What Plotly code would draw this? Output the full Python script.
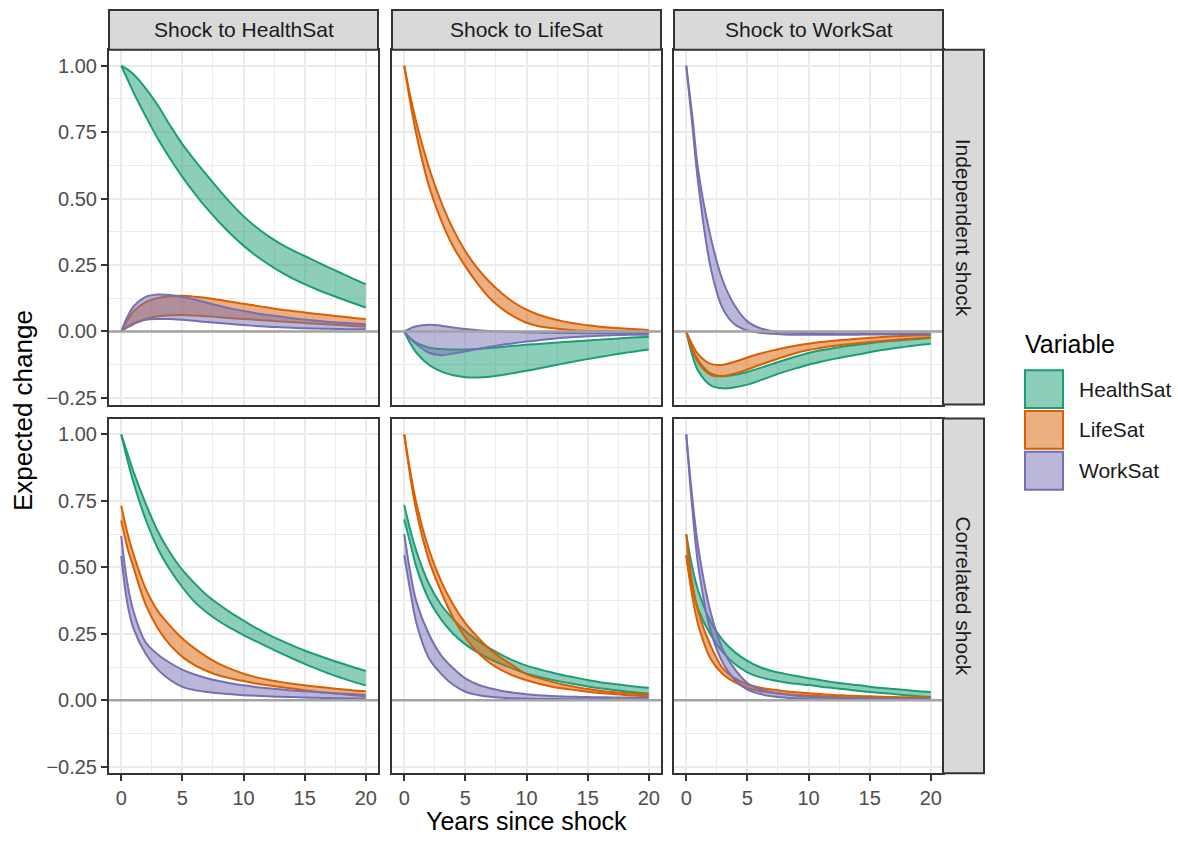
import plotly.graph_objects as go

W, H = 1178, 841

# ---------------- data ----------------
years = [0, 0.5, 1, 2, 3, 4, 5, 6, 7, 8, 9, 10, 11, 12, 13, 14, 15, 16, 17, 18, 19, 20]
variables = ["HealthSat", "LifeSat", "WorkSat"]
shock_labels = ["Shock to HealthSat", "Shock to LifeSat", "Shock to WorkSat"]
shock_types = ["Independent shock", "Correlated shock"]
x_ticks = [0, 5, 10, 15, 20]
x_tick_labels = ["0", "5", "10", "15", "20"]
y_ticks = [-0.25, 0, 0.25, 0.5, 0.75, 1.0]
y_tick_labels = ["\u22120.25", "0.00", "0.25", "0.50", "0.75", "1.00"]

# Independent shock, shock to HealthSat
ih_health_lo = [1.0, 0.95, 0.9, 0.81, 0.725, 0.65, 0.582, 0.52, 0.463, 0.412, 0.365, 0.323, 0.286, 0.254, 0.225, 0.2, 0.178, 0.158, 0.14, 0.123, 0.106, 0.09]
ih_health_hi = [1.0, 0.986, 0.968, 0.915, 0.85, 0.775, 0.705, 0.645, 0.588, 0.533, 0.481, 0.434, 0.394, 0.36, 0.331, 0.306, 0.284, 0.262, 0.24, 0.219, 0.198, 0.178]
ih_life_lo = [0, 0.015, 0.027, 0.047, 0.057, 0.061, 0.062, 0.06, 0.057, 0.054, 0.05, 0.047, 0.044, 0.041, 0.038, 0.035, 0.032, 0.029, 0.026, 0.024, 0.021, 0.019]
ih_life_hi = [0, 0.042, 0.075, 0.11, 0.126, 0.133, 0.134, 0.131, 0.126, 0.119, 0.112, 0.104, 0.097, 0.09, 0.083, 0.077, 0.071, 0.066, 0.061, 0.056, 0.051, 0.047]
ih_work_lo = [0, 0.018, 0.031, 0.044, 0.047, 0.047, 0.044, 0.04, 0.036, 0.032, 0.028, 0.024, 0.021, 0.018, 0.016, 0.014, 0.012, 0.011, 0.01, 0.009, 0.0085, 0.008]
ih_work_hi = [0, 0.055, 0.093, 0.13, 0.139, 0.137, 0.13, 0.12, 0.108, 0.097, 0.086, 0.077, 0.069, 0.062, 0.056, 0.05, 0.045, 0.04, 0.036, 0.033, 0.03, 0.027]

# Independent shock, shock to LifeSat
il_health_lo = [0, -0.045, -0.08, -0.125, -0.15, -0.165, -0.172, -0.173, -0.17, -0.164, -0.156, -0.148, -0.139, -0.13, -0.121, -0.112, -0.104, -0.096, -0.088, -0.081, -0.074, -0.068]
il_health_hi = [0, -0.025, -0.043, -0.06, -0.066, -0.068, -0.068, -0.066, -0.062, -0.058, -0.054, -0.05, -0.047, -0.043, -0.04, -0.037, -0.034, -0.031, -0.028, -0.025, -0.022, -0.02]
il_life_lo = [1.0, 0.86, 0.74, 0.55, 0.42, 0.32, 0.245, 0.18, 0.125, 0.085, 0.055, 0.033, 0.02, 0.013, 0.008, 0.004, 0.002, 0.0, -0.001, -0.002, -0.003, -0.003]
il_life_hi = [1.0, 0.885, 0.785, 0.62, 0.49, 0.385, 0.302, 0.237, 0.185, 0.143, 0.108, 0.082, 0.063, 0.049, 0.038, 0.03, 0.023, 0.018, 0.014, 0.011, 0.008, 0.006]
il_work_lo = [0, -0.028, -0.048, -0.08, -0.089, -0.083, -0.075, -0.066, -0.057, -0.05, -0.044, -0.038, -0.033, -0.028, -0.024, -0.021, -0.018, -0.016, -0.014, -0.013, -0.012, -0.012]
il_work_hi = [0, 0.012, 0.02, 0.025, 0.022, 0.015, 0.009, 0.005, 0.002, 0.0, -0.002, -0.003, -0.004, -0.005, -0.0055, -0.006, -0.0065, -0.007, -0.007, -0.007, -0.007, -0.007]

# Independent shock, shock to WorkSat
iw_health_lo = [0, -0.09, -0.15, -0.203, -0.214, -0.21, -0.2, -0.185, -0.168, -0.152, -0.138, -0.125, -0.114, -0.104, -0.095, -0.087, -0.078, -0.07, -0.063, -0.057, -0.051, -0.046]
iw_health_hi = [0, -0.065, -0.11, -0.158, -0.168, -0.163, -0.152, -0.138, -0.123, -0.108, -0.094, -0.081, -0.071, -0.063, -0.056, -0.05, -0.044, -0.039, -0.035, -0.031, -0.028, -0.025]
iw_life_lo = [0, -0.07, -0.118, -0.163, -0.168, -0.158, -0.143, -0.126, -0.11, -0.095, -0.081, -0.07, -0.062, -0.055, -0.049, -0.044, -0.04, -0.036, -0.032, -0.028, -0.025, -0.022]
iw_life_hi = [0, -0.05, -0.087, -0.122, -0.125, -0.113, -0.098, -0.084, -0.072, -0.062, -0.053, -0.046, -0.04, -0.035, -0.031, -0.027, -0.024, -0.021, -0.018, -0.016, -0.014, -0.012]
iw_work_lo = [1.0, 0.775, 0.55, 0.24, 0.085, 0.025, 0.004, -0.005, -0.009, -0.011, -0.012, -0.012, -0.012, -0.012, -0.012, -0.012, -0.011, -0.011, -0.011, -0.011, -0.01, -0.01]
iw_work_hi = [1.0, 0.81, 0.6, 0.355, 0.19, 0.095, 0.038, 0.013, 0.002, -0.003, -0.005, -0.006, -0.007, -0.007, -0.008, -0.008, -0.008, -0.008, -0.008, -0.008, -0.008, -0.008]

# Correlated shock, shock to HealthSat
ch_health_lo = [1.0, 0.905, 0.82, 0.68, 0.57, 0.49, 0.425, 0.37, 0.33, 0.297, 0.27, 0.245, 0.222, 0.2, 0.178, 0.157, 0.137, 0.118, 0.1, 0.084, 0.069, 0.056]
ch_health_hi = [1.0, 0.93, 0.86, 0.74, 0.635, 0.555, 0.49, 0.44, 0.395, 0.36, 0.328, 0.3, 0.272, 0.248, 0.226, 0.206, 0.187, 0.17, 0.154, 0.139, 0.124, 0.11]
ch_life_lo = [0.676, 0.575, 0.5, 0.36, 0.27, 0.207, 0.163, 0.132, 0.11, 0.093, 0.082, 0.072, 0.063, 0.056, 0.05, 0.044, 0.038, 0.032, 0.027, 0.023, 0.019, 0.015]
ch_life_hi = [0.732, 0.63, 0.55, 0.42, 0.335, 0.28, 0.232, 0.195, 0.163, 0.137, 0.117, 0.1, 0.087, 0.077, 0.069, 0.062, 0.056, 0.051, 0.046, 0.041, 0.037, 0.034]
ch_work_lo = [0.543, 0.365, 0.27, 0.175, 0.115, 0.076, 0.05, 0.038, 0.031, 0.026, 0.022, 0.019, 0.017, 0.015, 0.013, 0.012, 0.01, 0.009, 0.008, 0.007, 0.0065, 0.006]
ch_work_hi = [0.618, 0.44, 0.335, 0.218, 0.172, 0.14, 0.115, 0.097, 0.083, 0.072, 0.063, 0.056, 0.05, 0.045, 0.041, 0.037, 0.034, 0.031, 0.028, 0.025, 0.022, 0.02]

# Correlated shock, shock to LifeSat
cl_health_lo = [0.68, 0.59, 0.5, 0.38, 0.305, 0.25, 0.21, 0.18, 0.155, 0.135, 0.117, 0.1, 0.088, 0.077, 0.068, 0.06, 0.052, 0.045, 0.039, 0.034, 0.029, 0.025]
cl_health_hi = [0.735, 0.64, 0.56, 0.44, 0.36, 0.305, 0.26, 0.225, 0.195, 0.17, 0.148, 0.13, 0.117, 0.105, 0.094, 0.085, 0.076, 0.068, 0.062, 0.056, 0.051, 0.047]
cl_life_lo = [1.0, 0.84, 0.71, 0.53, 0.41, 0.31, 0.235, 0.18, 0.14, 0.112, 0.091, 0.075, 0.062, 0.052, 0.044, 0.038, 0.032, 0.027, 0.023, 0.02, 0.017, 0.015]
cl_life_hi = [1.0, 0.86, 0.74, 0.57, 0.45, 0.36, 0.29, 0.238, 0.192, 0.157, 0.127, 0.098, 0.083, 0.07, 0.059, 0.05, 0.042, 0.036, 0.031, 0.027, 0.024, 0.021]
cl_work_lo = [0.545, 0.41, 0.29, 0.16, 0.1, 0.058, 0.032, 0.02, 0.013, 0.009, 0.007, 0.006, 0.005, 0.005, 0.004, 0.004, 0.004, 0.004, 0.003, 0.003, 0.003, 0.003]
cl_work_hi = [0.625, 0.48, 0.37, 0.25, 0.17, 0.12, 0.082, 0.059, 0.045, 0.035, 0.028, 0.022, 0.019, 0.016, 0.014, 0.013, 0.012, 0.011, 0.0105, 0.01, 0.0095, 0.009]

# Correlated shock, shock to WorkSat
cw_health_lo = [0.545, 0.42, 0.34, 0.245, 0.18, 0.135, 0.105, 0.087, 0.076, 0.068, 0.062, 0.057, 0.051, 0.046, 0.041, 0.036, 0.031, 0.027, 0.023, 0.019, 0.015, 0.012]
cw_health_hi = [0.625, 0.5, 0.41, 0.295, 0.225, 0.18, 0.148, 0.125, 0.11, 0.1, 0.091, 0.083, 0.075, 0.068, 0.062, 0.057, 0.051, 0.046, 0.042, 0.038, 0.034, 0.031]
cw_life_lo = [0.545, 0.39, 0.28, 0.155, 0.098, 0.067, 0.045, 0.035, 0.028, 0.023, 0.02, 0.017, 0.015, 0.013, 0.0115, 0.01, 0.009, 0.008, 0.0075, 0.007, 0.0065, 0.006]
cw_life_hi = [0.625, 0.44, 0.33, 0.205, 0.12, 0.082, 0.06, 0.048, 0.04, 0.034, 0.03, 0.026, 0.023, 0.02, 0.018, 0.016, 0.0145, 0.013, 0.012, 0.011, 0.0105, 0.01]
cw_work_lo = [1.0, 0.72, 0.5, 0.26, 0.14, 0.075, 0.04, 0.024, 0.015, 0.01, 0.007, 0.005, 0.004, 0.004, 0.003, 0.003, 0.003, 0.002, 0.002, 0.002, 0.002, 0.002]
cw_work_hi = [1.0, 0.76, 0.57, 0.33, 0.19, 0.115, 0.065, 0.042, 0.03, 0.022, 0.017, 0.013, 0.011, 0.009, 0.008, 0.007, 0.0065, 0.006, 0.0055, 0.005, 0.005, 0.005]

# ---------------- styling ----------------
line_colors = {"HealthSat": "#1B9E77", "LifeSat": "#D95F02", "WorkSat": "#7570B3"}
fill_colors = {"HealthSat": "rgba(27,158,119,0.5)", "LifeSat": "rgba(217,95,2,0.5)",
               "WorkSat": "rgba(117,112,179,0.5)"}
FONT = "Liberation Sans, Arial, Helvetica, sans-serif"

panels = {
    (0, 0): [(ih_health_lo, ih_health_hi), (ih_life_lo, ih_life_hi), (ih_work_lo, ih_work_hi)],
    (0, 1): [(il_health_lo, il_health_hi), (il_life_lo, il_life_hi), (il_work_lo, il_work_hi)],
    (0, 2): [(iw_health_lo, iw_health_hi), (iw_life_lo, iw_life_hi), (iw_work_lo, iw_work_hi)],
    (1, 0): [(ch_health_lo, ch_health_hi), (ch_life_lo, ch_life_hi), (ch_work_lo, ch_work_hi)],
    (1, 1): [(cl_health_lo, cl_health_hi), (cl_life_lo, cl_life_hi), (cl_work_lo, cl_work_hi)],
    (1, 2): [(cw_health_lo, cw_health_hi), (cw_life_lo, cw_life_hi), (cw_work_lo, cw_work_hi)],
}

# panel positions in pixels
col_px = [(109, 378), (392, 661), (674, 943)]
row_px = [(50, 406.5), (420.5, 777)]


def pxx(p):
    return p / W


def pxy(p):
    return 1 - p / H


fig = go.Figure()
layout = dict(width=W, height=H, autosize=False, margin=dict(l=0, r=0, t=0, b=0, pad=0),
              paper_bgcolor="white", plot_bgcolor="white", showlegend=False,
              font=dict(family=FONT, color="#1A1A1A"))
shapes = []
annotations = []

for r in range(2):
    for c in range(3):
        n = r * 3 + c + 1
        sfx = "" if n == 1 else str(n)
        xa, ya = "x" + sfx, "y" + sfx
        layout["xaxis" + sfx] = dict(
            domain=[pxx(col_px[c][0]), pxx(col_px[c][1])], anchor=ya, range=[-1, 21],
            tickmode="array", tickvals=x_ticks, ticktext=x_tick_labels,
            showgrid=True, gridcolor="#EBEBEB", gridwidth=2, zeroline=False,
            minor=dict(tickvals=[2.5, 7.5, 12.5, 17.5], showgrid=True, gridcolor="#EBEBEB",
                       gridwidth=1, ticks=""),
            showline=True, mirror=True, linecolor="#333333", linewidth=2,
            ticks="outside" if r == 1 else "", ticklen=6, tickwidth=2, tickcolor="#333333",
            showticklabels=(r == 1), tickfont=dict(size=20, color="#4D4D4D", family=FONT),
            fixedrange=True)
        layout["yaxis" + sfx] = dict(
            domain=[pxy(row_px[r][1]), pxy(row_px[r][0])], anchor=xa, range=[-0.275, 1.06],
            tickmode="array", tickvals=y_ticks, ticktext=y_tick_labels,
            showgrid=True, gridcolor="#EBEBEB", gridwidth=2, zeroline=False,
            minor=dict(tickvals=[-0.125, 0.125, 0.375, 0.625, 0.875], showgrid=True,
                       gridcolor="#EBEBEB", gridwidth=1, ticks=""),
            showline=True, mirror=True, linecolor="#333333", linewidth=2,
            ticks="outside" if c == 0 else "", ticklen=6, tickwidth=2, tickcolor="#333333",
            showticklabels=(c == 0), tickfont=dict(size=20, color="#4D4D4D", family=FONT),
            fixedrange=True)

        for var, (lo, hi) in zip(variables, panels[(r, c)]):
            fig.add_trace(go.Scatter(x=years, y=lo, mode="lines", xaxis=xa, yaxis=ya,
                                     line=dict(color=line_colors[var], width=2, shape="spline"),
                                     hoverinfo="skip"))
            fig.add_trace(go.Scatter(x=years, y=hi, mode="lines", xaxis=xa, yaxis=ya,
                                     fill="tonexty", fillcolor=fill_colors[var],
                                     line=dict(color=line_colors[var], width=2, shape="spline"),
                                     hoverinfo="skip"))

        shapes.append(dict(type="line", xref=xa + " domain", yref=ya, x0=0, x1=1, y0=0, y1=0,
                           line=dict(color="#A3A3A3", width=2.5), layer="above"))

# strips on top
for c in range(3):
    shapes.append(dict(type="rect", xref="paper", yref="paper",
                       x0=pxx(col_px[c][0]), x1=pxx(col_px[c][1]), y0=pxy(50), y1=pxy(10),
                       fillcolor="#D9D9D9", line=dict(color="#333333", width=2), layer="above"))
    annotations.append(dict(text=shock_labels[c], xref="paper", yref="paper",
                            x=pxx((col_px[c][0] + col_px[c][1]) / 2), y=pxy(30),
                            showarrow=False, xanchor="center", yanchor="middle",
                            font=dict(size=21, color="#1A1A1A", family=FONT)))
# strips on right
for r in range(2):
    shapes.append(dict(type="rect", xref="paper", yref="paper",
                       x0=pxx(943), x1=pxx(984), y0=pxy(row_px[r][1]), y1=pxy(row_px[r][0]),
                       fillcolor="#D9D9D9", line=dict(color="#333333", width=2), layer="above"))
    annotations.append(dict(text=shock_types[r], xref="paper", yref="paper",
                            x=pxx(963.5), y=pxy((row_px[r][0] + row_px[r][1]) / 2),
                            showarrow=False, textangle=90, xanchor="center", yanchor="middle",
                            font=dict(size=21, color="#1A1A1A", family=FONT)))

# axis titles
annotations.append(dict(text="Years since shock", xref="paper", yref="paper",
                        x=pxx(526), y=pxy(825), showarrow=False, xanchor="center",
                        yanchor="middle", font=dict(size=25, color="black", family=FONT)))
annotations.append(dict(text="Expected change", xref="paper", yref="paper",
                        x=pxx(23), y=pxy(413), showarrow=False, textangle=-90,
                        xanchor="center", yanchor="middle",
                        font=dict(size=26, color="black", family=FONT)))

# legend (drawn manually to match the large ggplot keys)
annotations.append(dict(text="Variable", xref="paper", yref="paper", x=pxx(1023), y=pxy(346),
                        showarrow=False, xanchor="left", yanchor="middle",
                        font=dict(size=25, color="black", family=FONT)))
key_tops = [372, 413, 454]
for var, top in zip(variables, key_tops):
    shapes.append(dict(type="rect", xref="paper", yref="paper",
                       x0=pxx(1025), x1=pxx(1063), y0=pxy(top + 38), y1=pxy(top),
                       fillcolor=fill_colors[var], line=dict(color=line_colors[var], width=2)))
    annotations.append(dict(text=var, xref="paper", yref="paper", x=pxx(1077),
                            y=pxy(top + 19), showarrow=False, xanchor="left", yanchor="middle",
                            font=dict(size=21, color="#1A1A1A", family=FONT)))

layout["shapes"] = shapes
layout["annotations"] = annotations
fig.update_layout(**layout)
# remove the default 8px page margin so the 1178x841 figure fills the window exactly
fig.write_html("out.html", config={"displayModeBar": False},
               post_script="document.body.style.margin='0';document.body.style.overflow='hidden';")
